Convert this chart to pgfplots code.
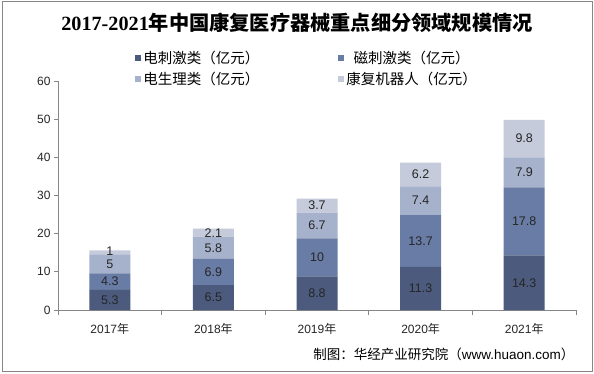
\documentclass[border=0pt]{standalone}
\usepackage{pgfplots}
\pgfplotsset{compat=1.18}
\usepackage{fontspec}
\setmainfont{Liberation Sans}
\newfontfamily\cjk{Noto Sans CJK SC}
\newfontfamily\titleserif{Liberation Serif}
\definecolor{c1}{HTML}{4B5A7D}
\definecolor{c2}{HTML}{687CA5}
\definecolor{c3}{HTML}{A6B1CB}
\definecolor{c4}{HTML}{C5CBDB}
\definecolor{axgray}{HTML}{868686}
\definecolor{txt}{HTML}{262626}
\newcommand{\legtxt}[1]{\fontsize{14.5}{16}\selectfont\cjk #1}
\begin{document}
\begin{tikzpicture}[x=1pt,y=1pt]
\useasboundingbox (0,0) rectangle (594,373);
\fill[white] (0,0) rectangle (594,373);
\draw[axgray, line width=1pt] (2,2) rectangle (592,371);
\node[text=black] at (297,350) {\fontsize{20.2}{22}\selectfont{\titleserif\bfseries 2017-2021}{\cjk\bfseries 年中国康复医疗器械重点细分领域规模情况}};
\node[anchor=east, text=black] at (578,19) {\fontsize{13.5}{15}\selectfont{\cjk 制图：华经产业研究院（}www.huaon.com{\cjk ）}};
\begin{axis}[
  at={(58pt,63pt)}, anchor=south west,
  scale only axis, width=518pt, height=229pt,
  xmin=-0.5, xmax=4.5, ymin=0, ymax=60,
  ybar stacked, bar width=41pt,
  axis x line*=bottom, axis y line*=left,
  axis line style={axgray, line width=0.8pt},
  tick style={axgray, line width=0.8pt},
  tick align=outside,
  xtick={0,1,2,3,4},
  xticklabels={{2017{\cjk 年}},{2018{\cjk 年}},{2019{\cjk 年}},{2020{\cjk 年}},{2021{\cjk 年}}},
  major x tick style={draw=none},
  minor xtick={-0.5,0.5,1.5,2.5,3.5,4.5},
  minor tick length=5pt,
  ytick={0,10,...,60},
  major tick length=4pt,
  /pgf/number format/assume math mode=true,
  tick label style={font=\fontsize{12}{14}\selectfont, text=txt},
  xticklabel style={yshift=-6pt},
  legend style={draw=none, fill=none, at={(0.143,1.148)}, anchor=north west,
    legend columns=2, row sep=2.5pt,
    /tikz/every even column/.append style={column sep=77pt}},
  legend image code/.code={\fill[#1] (0pt,-3pt) rectangle (6pt,3pt);},
]
\addplot[fill=c1, draw=none] coordinates {(0,5.3) (1,6.5) (2,8.8) (3,11.3) (4,14.3)};
\addlegendentry{\legtxt{电刺激类（亿元）}}
\addplot[fill=c2, draw=none] coordinates {(0,4.3) (1,6.9) (2,10) (3,13.7) (4,17.8)};
\addlegendentry{\legtxt{磁刺激类（亿元）}}
\addplot[fill=c3, draw=none] coordinates {(0,5) (1,5.8) (2,6.7) (3,7.4) (4,7.9)};
\addlegendentry{\legtxt{电生理类（亿元）}}
\addplot[fill=c4, draw=none] coordinates {(0,1) (1,2.1) (2,3.7) (3,6.2) (4,9.8)};
\addlegendentry{\legtxt{康复机器人（亿元）}}
\end{axis}
\begin{axis}[
  at={(58pt,63pt)}, anchor=south west,
  scale only axis, width=518pt, height=229pt,
  xmin=-0.5, xmax=4.5, ymin=0, ymax=60,
  hide axis, clip=false,
]
\addplot[draw=none, mark=none, nodes near coords, point meta=explicit symbolic,
  every node near coord/.append style={anchor=center, inner sep=0pt, font=\fontsize{12.5}{14}\selectfont, text=txt}]
  table[meta=label] {
x y label
0 2.65 5.3
0 7.45 4.3
0 12.1 5
0 15.3 1
1 3.25 6.5
1 9.95 6.9
1 16.3 5.8
1 20.25 2.1
2 4.4 8.8
2 13.8 10
2 22.15 6.7
2 27.35 3.7
3 5.65 11.3
3 18.15 13.7
3 28.7 7.4
3 35.5 6.2
4 7.15 14.3
4 23.2 17.8
4 36.05 7.9
4 44.9 9.8
};
\end{axis}
\end{tikzpicture}
\end{document}
